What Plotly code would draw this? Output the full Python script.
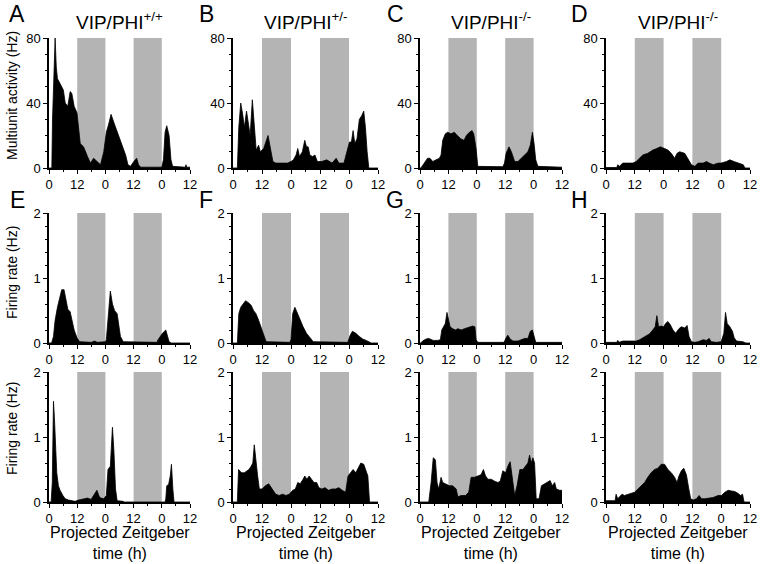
import plotly.graph_objects as go

# ---------------- data (hours of projected time, values) ----------------
x_tickvals = [0, 12, 24, 36, 48, 60]
x_ticktext = ["0", "12", "0", "12", "0", "12"]
dark_bands = [(12, 24), (36, 48)]

col_titles = ["VIP/PHI<sup>+/+</sup>", "VIP/PHI<sup>+/-</sup>", "VIP/PHI<sup>-/-</sup>", "VIP/PHI<sup>-/-</sup>"]
row1_letters = ["A", "B", "C", "D"]
row2_letters = ["E", "F", "G", "H"]

A_t = [0, 1.2, 1.5, 2.0, 2.6, 3.1, 3.6, 4.7, 5.5, 6.1, 6.9, 8.0, 9.0, 9.7, 10.7, 11.9, 13.3, 14.7, 16.4, 17.6, 19.0, 20.4, 21.9, 23.3, 24.4, 25.4, 26.4, 27.6, 29.0, 30.4, 31.6, 32.6, 33.6, 34.7, 36.1, 37.3, 38.1, 39.0, 48.0, 48.7, 49.4, 50.1, 51.1, 51.9, 52.6, 58.0, 58.3, 58.6, 60]
A_v = [0, 0, 30, 55, 80, 62, 55, 52, 50, 48, 40, 38, 47, 46, 38, 34, 15, 13, 7, 3, 6, 4, 2, 10, 22, 27, 33, 28, 22, 16, 12, 8, 2, 1, 4, 6, 2, 0.5, 0.5, 5, 22, 26, 20, 5, 1, 0.5, 2, 0.5, 0.5]

B_t = [0, 1.8, 2.4, 3.2, 4.0, 4.7, 5.6, 6.4, 7.1, 8.0, 8.8, 9.6, 10.6, 11.3, 12.7, 13.7, 14.5, 15.5, 16.5, 17.7, 20.5, 22.6, 24.0, 25.0, 26.1, 26.8, 27.5, 28.7, 29.7, 30.4, 31.1, 31.8, 32.9, 33.9, 34.9, 36.7, 38.8, 41.0, 42.7, 43.8, 45.9, 47.3, 48.2, 49.0, 49.7, 50.4, 51.3, 52.3, 53.2, 54.1, 54.8, 55.5, 56.2, 60]
B_v = [0, 0, 25, 40, 33, 25, 35, 25, 20, 42, 25, 11, 14, 10, 12, 17, 20, 12, 4, 3, 3, 3, 4, 5, 8, 12, 7, 10, 17, 13, 13, 8, 7, 8, 4, 4, 5, 3, 6, 3, 3, 10, 16, 16, 23, 15, 18, 30, 32, 35, 25, 10, 0, 0]

C_t = [0, 0.4, 1.8, 3.2, 4.2, 5.4, 6.8, 8.2, 8.9, 9.6, 10.7, 11.7, 13.1, 14.5, 15.8, 17.2, 18.6, 19.6, 20.9, 22.0, 22.7, 23.7, 24.4, 30, 35, 35.7, 36.4, 37.6, 38.6, 40.0, 41.4, 42.8, 44.2, 45.6, 46.6, 47.5, 48.2, 48.9, 49.8, 60]
C_v = [0, 0, 3, 6, 6, 4, 5, 6, 8, 17, 21, 22, 21, 22, 20, 18, 17, 20, 22, 23, 21, 12, 1, 0.8, 0.8, 3, 9, 13, 10, 4, 4, 6, 8, 10, 14, 22, 15, 5, 1, 0.5]

D_t = [0, 4.5, 4.9, 5.6, 7.0, 9.1, 11.2, 12.6, 14.0, 15.3, 17.4, 19.5, 21.2, 22.6, 24.4, 25.8, 27.2, 28.6, 29.6, 30.7, 32.8, 34.2, 35.6, 37.0, 38.4, 40.5, 41.9, 43.0, 44.7, 46.7, 48.0, 50.2, 51.6, 53.3, 55.1, 56.5, 57.2, 57.9, 60]
D_v = [0.3, 0.3, 2, 1, 3, 3, 3, 4, 6, 8, 9, 11, 12, 13, 12, 11, 9, 6, 9, 10, 9, 5, 2, 1, 3, 3, 4, 3, 2, 3, 3, 4, 5, 4, 3, 2, 2, 0, 0]

E_t = [0, 1.1, 1.9, 2.6, 3.6, 4.7, 5.4, 6.4, 7.1, 8.0, 9.0, 9.7, 10.7, 11.9, 13.0, 18, 19.4, 20.5, 24.0, 24.4, 25.1, 26.1, 27.0, 27.9, 29.0, 29.7, 30.4, 31.6, 46.0, 46.4, 47.3, 48.3, 49.7, 50.4, 51.1, 52, 60]
E_v = [0, 0, 0.1, 0.35, 0.55, 0.75, 0.82, 0.82, 0.7, 0.52, 0.48, 0.35, 0.2, 0.08, 0.02, 0.01, 0.03, 0.01, 0.02, 0.05, 0.4, 0.8, 0.6, 0.5, 0.45, 0.3, 0.1, 0.02, 0.01, 0.05, 0.1, 0.15, 0.2, 0.12, 0.02, 0, 0]

F_t = [0, 1.8, 2.4, 3.2, 4.2, 5.2, 6.4, 7.5, 8.5, 9.5, 10.6, 11.7, 12.7, 13.7, 23.5, 24.0, 24.7, 25.6, 26.4, 27.5, 29.0, 30.4, 31.8, 33.2, 47.5, 48.5, 49.4, 50.8, 52.3, 53.7, 55.1, 56.5, 57.2, 60]
F_v = [0, 0, 0.45, 0.55, 0.6, 0.65, 0.62, 0.58, 0.5, 0.45, 0.35, 0.22, 0.1, 0.02, 0.01, 0.05, 0.45, 0.55, 0.48, 0.38, 0.25, 0.15, 0.08, 0.02, 0.01, 0.12, 0.18, 0.15, 0.1, 0.06, 0.04, 0.02, 0, 0]

G_t = [0, 0.4, 1.1, 2.5, 3.7, 4.7, 5.6, 7.5, 8.6, 9.2, 10.0, 10.7, 11.4, 12.0, 12.7, 13.8, 15.0, 16.0, 17.4, 18.8, 20.2, 21.2, 22.3, 23.2, 23.7, 24.4, 35.5, 36.4, 37.1, 38.1, 39.3, 41.4, 42.8, 44.2, 45.6, 46.6, 47.5, 48.2, 48.9, 60]
G_v = [0, 0, 0.03, 0.06, 0.07, 0.06, 0.04, 0.04, 0.05, 0.2, 0.25, 0.3, 0.47, 0.38, 0.25, 0.22, 0.2, 0.22, 0.2, 0.22, 0.24, 0.25, 0.26, 0.25, 0.05, 0.01, 0.01, 0.08, 0.12, 0.06, 0.03, 0.03, 0.05, 0.07, 0.07, 0.18, 0.2, 0.1, 0.01, 0.01]

H_t = [0, 4.5, 4.9, 5.4, 7.0, 9.1, 11.2, 12.6, 14.0, 15.3, 16.7, 18.1, 19.5, 20.5, 21.2, 21.9, 23.0, 24.1, 24.8, 25.8, 26.8, 27.9, 29.0, 30.4, 31.4, 32.8, 33.8, 34.6, 35.6, 37.0, 38.4, 40.5, 41.9, 43.0, 43.8, 46, 48.0, 49.1, 49.8, 50.5, 51.6, 52.7, 53.4, 54.4, 57.0, 58.3, 60]
H_v = [0.01, 0.01, 0.04, 0.01, 0.03, 0.03, 0.02, 0.03, 0.05, 0.08, 0.1, 0.14, 0.2, 0.25, 0.42, 0.25, 0.26, 0.25, 0.3, 0.33, 0.28, 0.2, 0.15, 0.22, 0.25, 0.23, 0.27, 0.1, 0.02, 0.01, 0.02, 0.05, 0.04, 0.07, 0.02, 0.01, 0.02, 0.15, 0.47, 0.3, 0.25, 0.18, 0.08, 0.03, 0.02, 0, 0]

E3_t = [0, 0.9, 1.4, 1.9, 2.3, 2.9, 3.3, 4.0, 4.7, 5.9, 6.9, 8.3, 9.7, 11.1, 12.6, 14.7, 16.4, 17.9, 19.3, 20.4, 21.4, 22.1, 23.3, 24.4, 25.1, 26.1, 27.0, 27.6, 28.3, 29.0, 31.5, 32, 49.4, 49.7, 50.1, 50.9, 51.6, 52.1, 52.7, 53.2, 60]
E3_v = [0, 0, 0.3, 1.55, 1.3, 0.8, 0.45, 0.25, 0.18, 0.1, 0.05, 0.03, 0.02, 0.01, 0.03, 0.05, 0.06, 0.04, 0.12, 0.18, 0.08, 0.06, 0.05, 0.1, 0.5, 0.55, 1.15, 0.8, 0.2, 0.02, 0.01, 0, 0, 0.05, 0.25, 0.27, 0.4, 0.58, 0.2, 0, 0]

F3_t = [0, 1.8, 2.3, 2.8, 3.5, 4.7, 5.6, 6.6, 7.5, 8.2, 8.8, 9.5, 10.2, 10.9, 12.0, 13.4, 14.8, 16.2, 17.7, 19.1, 20.5, 21.9, 23.3, 24.7, 25.8, 26.8, 27.8, 29.0, 29.7, 30.6, 31.5, 32.5, 33.5, 34.6, 35.6, 36.7, 38.1, 39.5, 41.0, 42.4, 43.8, 45.2, 46.6, 47.6, 48.7, 49.7, 50.8, 52.0, 52.9, 54.1, 55.1, 55.8, 56.5, 60]
F3_v = [0, 0, 0.5, 0.48, 0.45, 0.45, 0.48, 0.5, 0.55, 0.6, 0.88, 0.6, 0.4, 0.2, 0.2, 0.25, 0.28, 0.2, 0.12, 0.1, 0.12, 0.1, 0.12, 0.18, 0.2, 0.3, 0.28, 0.35, 0.4, 0.35, 0.4, 0.35, 0.3, 0.3, 0.22, 0.2, 0.22, 0.18, 0.2, 0.2, 0.22, 0.18, 0.15, 0.4, 0.45, 0.5, 0.45, 0.55, 0.6, 0.58, 0.45, 0.4, 0, 0]

G3_t = [0, 3.7, 4.7, 5.6, 6.5, 7.2, 7.9, 8.9, 9.6, 10.7, 12.4, 13.8, 15.3, 16.0, 17.4, 19.2, 20.6, 21.6, 23.0, 24.4, 25.8, 26.8, 27.7, 28.7, 30.1, 31.5, 32.9, 33.9, 35.0, 36.2, 37.1, 38.1, 38.9, 40.0, 41.0, 42.2, 43.5, 44.6, 45.6, 46.3, 47.0, 47.7, 48.4, 49.1, 50.3, 51.3, 52.6, 54.0, 55.0, 55.9, 56.9, 57.6, 59.0, 60]
G3_v = [0, 0, 0.3, 0.68, 0.65, 0.3, 0.2, 0.38, 0.3, 0.28, 0.25, 0.25, 0.2, 0.08, 0.1, 0.1, 0.15, 0.38, 0.38, 0.4, 0.42, 0.5, 0.4, 0.35, 0.35, 0.32, 0.3, 0.32, 0.48, 0.45, 0.55, 0.62, 0.4, 0.1, 0.25, 0.5, 0.5, 0.55, 0.6, 0.72, 0.6, 0.68, 0.6, 0.05, 0.05, 0.25, 0.28, 0.3, 0.33, 0.25, 0.3, 0.2, 0.18, 0.18]

H3_t = [0, 3.8, 4.2, 4.9, 5.6, 6.7, 7.7, 9.1, 10.5, 11.9, 13.3, 14.7, 16.1, 17.4, 18.8, 20.2, 21.6, 23.0, 24.4, 25.8, 27.2, 28.6, 29.6, 30.4, 31.4, 32.4, 33.5, 34.5, 35.3, 36.3, 37.7, 38.8, 39.8, 41.2, 42.6, 44.7, 46.7, 48.1, 49.5, 50.9, 52.3, 53.7, 55.1, 56.1, 56.9, 57.5, 60]
H3_v = [0.02, 0.02, 0.12, 0.05, 0.08, 0.12, 0.1, 0.12, 0.13, 0.15, 0.2, 0.25, 0.3, 0.38, 0.45, 0.5, 0.52, 0.58, 0.58, 0.5, 0.45, 0.38, 0.3, 0.4, 0.48, 0.52, 0.42, 0.2, 0.05, 0.03, 0.05, 0.1, 0.05, 0.05, 0.06, 0.07, 0.1, 0.1, 0.15, 0.18, 0.17, 0.16, 0.13, 0.1, 0.12, 0, 0]

panels = [
    [(A_t, A_v), (B_t, B_v), (C_t, C_v), (D_t, D_v)],
    [(E_t, E_v), (F_t, F_v), (G_t, G_v), (H_t, H_v)],
    [(E3_t, E3_v), (F3_t, F3_v), (G3_t, G3_v), (H3_t, H3_v)],
]
row_yrange = [(0, 80), (0, 2), (0, 2)]
row_yticks = [[0, 40, 80], [0, 1, 2], [0, 1, 2]]
row_minor = [10, 0.2, 0.2]
row_ytitles = ["Multiunit activity (Hz)", "Firing rate (Hz)", "Firing rate (Hz)"]

# ---------------- layout geometry (pixels) ----------------
W, H = 761, 564
col_px = [(49, 190), (233, 378), (420, 562), (606, 750)]
row_px = [(38, 168), (213, 343), (372, 502)]
ytitle_cy = [96, 273, 429]
FONT = "Liberation Sans, Arial, sans-serif"


def fx(px):
    return px / W


def fy(py):
    return 1 - py / H


fig = go.Figure()
layout = {}
shapes = []
annotations = []

for r in range(3):
    for c in range(4):
        n = r * 4 + c + 1
        xs = "" if n == 1 else str(n)
        t, v = panels[r][c]
        assert len(t) == len(v), (r, c, len(t), len(v))
        fig.add_trace(go.Scatter(
            x=t, y=v, mode="lines", fill="tozeroy",
            fillcolor="black", line=dict(color="black", width=0.8),
            xaxis="x" + xs, yaxis="y" + xs, hoverinfo="skip", showlegend=False,
        ))
        x0, x1 = col_px[c]
        y0, y1 = row_px[r]
        layout["xaxis" + xs] = dict(
            domain=[fx(x0), fx(x1)], anchor="y" + xs, range=[0, 60], automargin=False,
            tickvals=x_tickvals, ticktext=x_ticktext,
            ticks="outside", ticklen=4, tickwidth=1.2, tickcolor="black",
            showline=True, linecolor="black", linewidth=1.5,
            showgrid=False, zeroline=False,
            tickfont=dict(family=FONT, size=13, color="black"),
            minor=dict(dtick=6, tick0=0, ticks="outside", ticklen=2.5, tickcolor="black", tickwidth=1),
        )
        layout["yaxis" + xs] = dict(
            domain=[fy(y1), fy(y0)], anchor="x" + xs, range=list(row_yrange[r]), automargin=False,
            tickvals=row_yticks[r],
            ticks="outside", ticklen=4, tickwidth=1.2, tickcolor="black",
            showline=True, linecolor="black", linewidth=1.5,
            showgrid=False, zeroline=False,
            tickfont=dict(family=FONT, size=13, color="black"),
            minor=dict(dtick=row_minor[r], tick0=0, ticks="outside", ticklen=2.5, tickcolor="black", tickwidth=1),
        )
        for b0, b1 in dark_bands:
            shapes.append(dict(
                type="rect", xref="x" + xs, yref="y" + xs + " domain",
                x0=b0, x1=b1, y0=0, y1=1, fillcolor="rgb(180,180,180)",
                line=dict(width=0), layer="below",
            ))

# column titles and x-axis titles
for c in range(4):
    cx = (col_px[c][0] + col_px[c][1]) / 2
    annotations.append(dict(text=col_titles[c], x=fx(cx), y=fy(21), xref="paper", yref="paper",
                            showarrow=False, xanchor="center", yanchor="middle",
                            font=dict(family=FONT, size=19, color="black")))
    annotations.append(dict(text="Projected Zeitgeber<br>time (h)", x=fx(cx), y=fy(543), xref="paper",
                            yref="paper", showarrow=False, xanchor="center", yanchor="middle",
                            font=dict(family=FONT, size=16, color="black")))

# panel letters
letter_x = [17, 206, 395, 579]
for c in range(4):
    annotations.append(dict(text=row1_letters[c], x=fx(letter_x[c]), y=fy(14), xref="paper", yref="paper",
                            showarrow=False, xanchor="center", yanchor="middle",
                            font=dict(family=FONT, size=23, color="black")))
    annotations.append(dict(text=row2_letters[c], x=fx(letter_x[c]), y=fy(200), xref="paper", yref="paper",
                            showarrow=False, xanchor="center", yanchor="middle",
                            font=dict(family=FONT, size=23, color="black")))

# y titles
for r in range(3):
    annotations.append(dict(text=row_ytitles[r], x=fx(12), y=fy(ytitle_cy[r]), xref="paper", yref="paper",
                            showarrow=False, textangle=-90, xanchor="center", yanchor="middle",
                            font=dict(family=FONT, size=14, color="black")))

fig.update_layout(
    width=W, height=H, margin=dict(l=0, r=0, t=0, b=0, autoexpand=False),
    paper_bgcolor="white", plot_bgcolor="white",
    showlegend=False, shapes=shapes, annotations=annotations,
    **layout,
)

fig.write_html(
    "out.html",
    config={"displayModeBar": False},
    post_script="document.body.style.margin='0px';document.body.style.padding='0px';document.body.style.overflow='hidden';",
)
